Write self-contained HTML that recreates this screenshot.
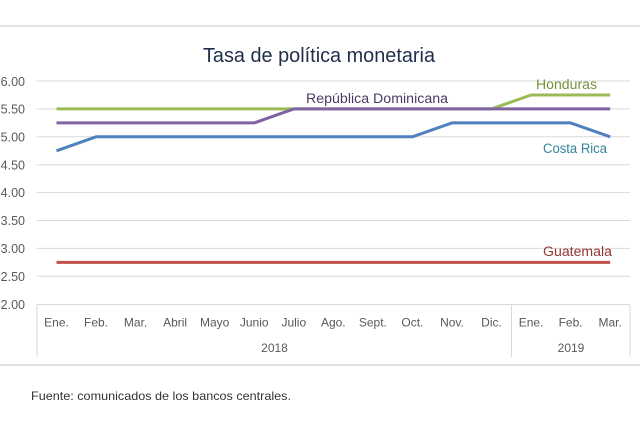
<!DOCTYPE html>
<html><head><meta charset="utf-8">
<style>
html,body{margin:0;padding:0;background:#fff;}
svg{display:block;}
text{font-family:"Liberation Sans",sans-serif;}
</style></head>
<body>
<svg width="640" height="424" viewBox="0 0 640 424" xmlns="http://www.w3.org/2000/svg">
<rect width="640" height="424" fill="#fff"/>
<line x1="0" y1="26" x2="640" y2="26" stroke="#d9d9d9" stroke-width="1.5"/>
<line x1="0" y1="365" x2="640" y2="365" stroke="#d9d9d9" stroke-width="1.5"/>
<text x="319" y="62" font-size="20" fill="#1f2f4a" text-anchor="middle" textLength="232" lengthAdjust="spacingAndGlyphs">Tasa de política monetaria</text>
<g stroke="#d9d9d9" stroke-width="1">
<line x1="36.7" y1="81" x2="630" y2="81"/>
<line x1="36.7" y1="108.9" x2="630" y2="108.9"/>
<line x1="36.7" y1="136.8" x2="630" y2="136.8"/>
<line x1="36.7" y1="164.7" x2="630" y2="164.7"/>
<line x1="36.7" y1="192.6" x2="630" y2="192.6"/>
<line x1="36.7" y1="220.5" x2="630" y2="220.5"/>
<line x1="36.7" y1="248.4" x2="630" y2="248.4"/>
<line x1="36.7" y1="276.3" x2="630" y2="276.3"/>
<line x1="36.7" y1="304.5" x2="630" y2="304.5"/>
<line x1="37" y1="304.5" x2="37" y2="357"/>
<line x1="511.5" y1="304.5" x2="511.5" y2="357"/>
<line x1="630" y1="304.5" x2="630" y2="357"/>
</g>
<g font-size="12.5" fill="#595959" text-anchor="end">
<text x="25" y="86">6.00</text>
<text x="25" y="113.5">5.50</text>
<text x="25" y="141.5">5.00</text>
<text x="25" y="169.5">4.50</text>
<text x="25" y="197">4.00</text>
<text x="25" y="225">3.50</text>
<text x="25" y="253">3.00</text>
<text x="25" y="281">2.50</text>
<text x="25" y="309">2.00</text>
</g>
<g font-size="12" fill="#595959" text-anchor="middle">
<text x="56.5" y="326.5">Ene.</text>
<text x="96" y="326.5">Feb.</text>
<text x="135.6" y="326.5">Mar.</text>
<text x="175.1" y="326.5">Abril</text>
<text x="214.7" y="326.5">Mayo</text>
<text x="254.2" y="326.5">Junio</text>
<text x="293.8" y="326.5">Julio</text>
<text x="333.3" y="326.5">Ago.</text>
<text x="372.9" y="326.5">Sept.</text>
<text x="412.4" y="326.5">Oct.</text>
<text x="452" y="326.5">Nov.</text>
<text x="491.5" y="326.5">Dic.</text>
<text x="531.1" y="326.5">Ene.</text>
<text x="570.6" y="326.5">Feb.</text>
<text x="610.2" y="326.5">Mar.</text>
<text x="274.5" y="352">2018</text>
<text x="571" y="352">2019</text>
</g>
<g fill="none" stroke-width="3" stroke-linejoin="round">
<polyline stroke="#c0504d" points="56.5,262.4 610.2,262.4"/>
<polyline stroke="#9bbb59" points="56.5,108.9 491.5,108.9 531.1,95 610.2,95"/>
<polyline stroke="#8064a2" points="56.5,122.9 254.2,122.9 293.8,108.9 610.2,108.9"/>
<polyline stroke="#4f81bd" points="56.5,150.8 96,136.8 412.4,136.8 452,122.9 570.6,122.9 610.2,136.8"/>
</g>
<text x="306" y="103" font-size="13.5" fill="#4a3a63" textLength="142" lengthAdjust="spacingAndGlyphs">República Dominicana</text>
<text x="536" y="89" font-size="13.5" fill="#76923c" textLength="61" lengthAdjust="spacingAndGlyphs">Honduras</text>
<text x="543" y="153" font-size="13.5" fill="#31849b" textLength="64" lengthAdjust="spacingAndGlyphs">Costa Rica</text>
<text x="543" y="256" font-size="13.5" fill="#943634" textLength="69" lengthAdjust="spacingAndGlyphs">Guatemala</text>
<text x="31" y="400" font-size="12" fill="#333" textLength="260" lengthAdjust="spacingAndGlyphs">Fuente: comunicados de los bancos centrales.</text>
</svg>
</body></html>
